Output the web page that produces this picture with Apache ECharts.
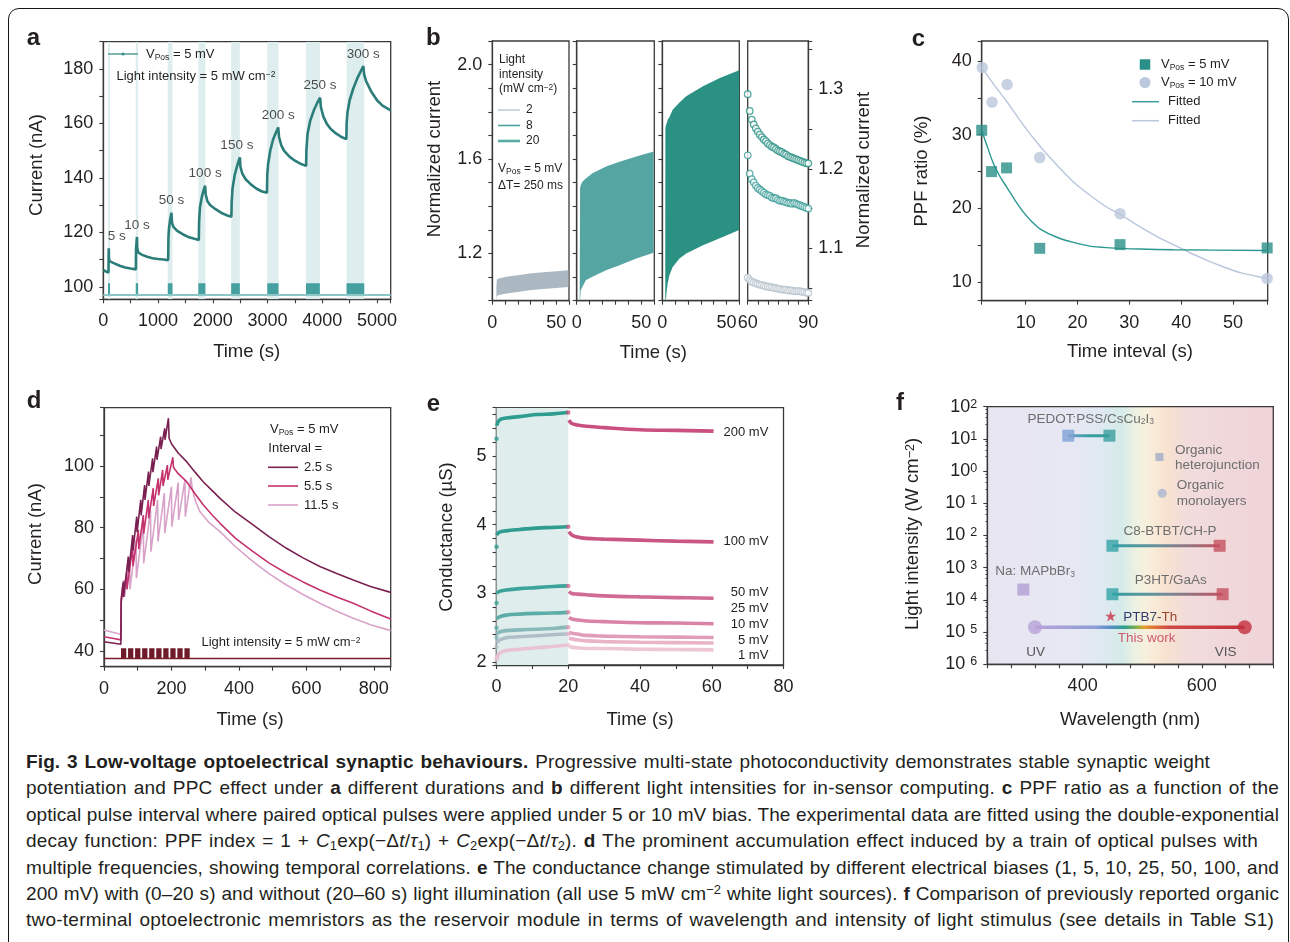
<!DOCTYPE html>
<html><head><meta charset="utf-8">
<script src="https://cdn.jsdelivr.net/npm/echarts@6.0.0/dist/echarts.min.js"></script>
<style>
html,body{margin:0;padding:0;background:#fff;width:1290px;height:942px;overflow:hidden;}
#frame{position:absolute;left:8px;top:8px;width:1281px;height:1100px;border:1.6px solid #161616;border-radius:11px;box-sizing:border-box;}
#chart{position:absolute;left:0;top:0;width:1290px;height:745px;}
#cap{position:absolute;left:26px;top:749px;font-family:"Liberation Sans",Arial,sans-serif;font-size:19px;color:#231f20;}
.ln{height:26.4px;line-height:26.4px;white-space:nowrap;}
.ln sub{font-size:0.68em;vertical-align:-0.22em;line-height:0;}
.ln sup{font-size:0.68em;vertical-align:0.5em;line-height:0;}
</style></head><body>
<div id="frame"></div>
<div id="chart"></div>
<div id="cap">
<div class="ln" data-w="1184"><span><b>Fig. 3 Low-voltage optoelectrical synaptic behaviours.</b> Progressive multi-state photoconductivity demonstrates stable synaptic weight</span></div>
<div class="ln" data-w="1253"><span>potentiation and PPC effect under <b>a</b> different durations and <b>b</b> different light intensities for in-sensor computing. <b>c</b> PPF ratio as a function of the</span></div>
<div class="ln" data-w="1253"><span>optical pulse interval where paired optical pulses were applied under 5 or 10 mV bias. The experimental data are fitted using the double-exponential</span></div>
<div class="ln" data-w="1232"><span>decay function: PPF index = 1 + <i>C</i><sub>1</sub>exp(−Δ<i>t</i>/<i>τ</i><sub>1</sub>) + <i>C</i><sub>2</sub>exp(−Δ<i>t</i>/<i>τ</i><sub>2</sub>). <b>d</b> The prominent accumulation effect induced by a train of optical pulses with</span></div>
<div class="ln" data-w="1253"><span>multiple frequencies, showing temporal correlations. <b>e</b> The conductance change stimulated by different electrical biases (1, 5, 10, 25, 50, 100, and</span></div>
<div class="ln" data-w="1253"><span>200 mV) with (0–20 s) and without (20–60 s) light illumination (all use 5 mW cm<sup>−2</sup> white light sources). <b>f</b> Comparison of previously reported organic</span></div>
<div class="ln" data-w="1248"><span>two-terminal optoelectronic memristors as the reservoir module in terms of wavelength and intensity of light stimulus (see details in Table S1)</span></div>
</div>
<script>
// ================= DATA =================
// Panel a
const aCurve = [[0,106.1],[50,105.6],[95,105.2],[97,111],[100,114.1],[104,110.5],[115,109.4],[200,108.6],[300,107.7],[400,107.1],[500,106.7],[595,106.4],[598,114],[615,118.3],[620,114.2],[640,112.6],[700,111.8],[800,111],[900,110.5],[1000,110.2],[1100,110],[1185,109.8],[1190,118],[1200,121.5],[1220,124.5],[1245,127.2],[1255,123.5],[1280,122],[1350,120.5],[1450,119.3],[1550,118.3],[1650,117.7],[1745,117.2],[1750,124],[1765,129],[1800,133],[1830,135.3],[1860,137.1],[1870,134],[1900,131.5],[1950,130],[2050,128.5],[2150,127.2],[2250,126.3],[2340,125.7],[2345,131],[2360,136],[2400,141],[2450,144.8],[2495,147.5],[2505,144],[2540,141.5],[2600,139.5],[2700,137.5],[2800,136],[2900,135],[2990,134.5],[2995,141],[3010,145],[3050,150],[3100,154],[3150,156.5],[3195,158.5],[3210,155],[3250,152],[3300,150],[3400,147.8],[3500,146.3],[3600,145.2],[3705,144.4],[3710,150],[3730,156],[3780,161],[3850,165],[3910,167.6],[3960,169.5],[3975,166],[4020,162.5],[4080,160],[4150,158],[4250,156.3],[4350,155],[4440,154.2],[4445,160],[4460,164],[4500,168.5],[4570,173],[4650,177],[4700,179],[4750,181],[4765,178],[4800,175.5],[4900,171.5],[5000,168.5],[5100,166.5],[5250,164.8]];
const aPulseStart = [86,593,1178,1736,2336,2995,3703,4444];
const aPulseEnd = [123,636,1264,1865,2494,3201,3956,4767];
const aPulseLabels = ['5 s','10 s','50 s','100 s','150 s','200 s','250 s','300 s'];
const aPeakT = [100,615,1245,1860,2495,3195,3960,4750];
const aPeakV = [114.1,118.3,127.2,137.1,147.5,158.5,169.5,181];
const aPulseLow = 97.2, aPulseHigh = 101.25, aBaseline = 97;

// Panel b (band envelopes: time, lower, upper)
const b1T = [3.2,3.6,5,11,20,29,40,50,59.5];
const b1Lo = [1.0,1.02,1.024,1.03,1.037,1.044,1.05,1.054,1.058];
const b1Hi = [1.06,1.09,1.094,1.101,1.108,1.115,1.12,1.125,1.129];
const b2T = [2.3,2.6,3.1,4.4,7,12.2,22.7,33.1,46.1,59.5];
const b2Lo = [1.0,1.0,1.044,1.058,1.087,1.101,1.129,1.15,1.179,1.203];
const b2Hi = [1.0,1.476,1.49,1.504,1.518,1.54,1.568,1.589,1.611,1.632];
const b3T = [2.3,2.4,2.9,3.4,4.2,5.5,8.1,13.4,18.6,31.7,44.8,59.9];
const b3Lo = [1.0,1.0,1.01,1.04,1.073,1.108,1.143,1.179,1.2,1.235,1.264,1.299];
const b3Hi = [1.0,1.73,1.745,1.752,1.766,1.777,1.809,1.84,1.866,1.908,1.943,1.976];
const b4T = [60,61,62,63,64,65,66,67,68,69,70,71,72,73,74,75,76,77,78,79,80,81,82,83,84,85,86,87,88,89,90];
const b4High = [1.294,1.273,1.262,1.256,1.251,1.247,1.243,1.24,1.237,1.235,1.232,1.23,1.228,1.227,1.225,1.223,1.222,1.221,1.219,1.218,1.216,1.215,1.214,1.213,1.212,1.211,1.21,1.209,1.208,1.207,1.207];
const b4Mid = [1.217,1.194,1.187,1.183,1.179,1.176,1.174,1.172,1.17,1.168,1.167,1.166,1.164,1.163,1.163,1.161,1.16,1.16,1.159,1.158,1.157,1.157,1.156,1.157,1.156,1.155,1.154,1.153,1.152,1.151,1.15];
const b4Low = [1.063,1.06,1.058,1.057,1.056,1.055,1.054,1.054,1.053,1.052,1.052,1.051,1.051,1.05,1.05,1.049,1.049,1.048,1.048,1.048,1.047,1.047,1.047,1.046,1.046,1.046,1.046,1.045,1.045,1.044,1.044];

// Panel c
const cX5 = [1.5,3.4,6.3,12.7,28.2,56.6];
const cY5 = [30.6,25.0,25.5,14.6,15.1,14.65];
const cX10 = [1.6,3.5,6.4,12.7,28.2,56.6];
const cY10 = [39.1,34.4,36.8,26.9,19.3,10.5];
const cFit5X = [1.5,2.47,3.76,5.05,6.33,7.94,9.55,11.2,12.8,16,19.2,22.4,25.6,32,38.5,56.7];
const cFit5Y = [30.6,28.6,26.1,24.3,22.9,21.1,19.5,18.2,17.2,16.1,15.4,14.9,14.7,14.5,14.4,14.3];
const cFit10X = [1.51,3.76,6.33,9.55,12.8,16,19.2,22.4,25.6,28.2,32.1,35.3,38.5,41.7,44.9,48.1,51.4,56.7];
const cFit10Y = [39.1,36.9,34.5,31.3,28.4,25.9,23.6,21.8,20.2,19.2,17.5,16.2,15.1,14.0,13.0,12.1,11.3,10.5];

// Panel d
const d25 = [[0,43.0],[25,42.6],[50,42.2],[51,56],[57,62.5],[58,57.5],[72,70.6],[73,65.5],[85,77.6],[86,72.5],[97,83.6],[98,78.5],[109,89],[110,84],[120.5,93.8],[121.5,89],[132,98.2],[133,93.5],[144,102.5],[145,98],[156,106.3],[157,102],[168,109.5],[169,105.5],[180,112.2],[181,108.5],[191,115.5],[193,109],[200,107.2],[220,104.2],[245,101.4],[270,98],[294,94.9],[320,92.1],[344,89.5],[390,85],[442,80.9],[490,77],[541,73.3],[590,70.2],[640,67.4],[690,65.1],[739,63],[790,60.9],[850,59]];
const d55 = [[0,44.6],[25,44.1],[50,43.6],[51,57],[56,61.5],[57,57.5],[67,65.2],[68,60],[85,73.9],[86,67.5],[102,79.3],[103,73],[116.6,84.1],[117.5,78],[131.4,89],[132.5,83],[146,92.8],[147,87],[161,96],[162,90.5],[174,98.7],[175,93.5],[188,100.3],[189,95.5],[204,102.8],[206,99.5],[220,97.5],[245,94.9],[270,91],[294,87.4],[320,84.2],[344,81.4],[390,76.5],[442,72.2],[490,68.5],[541,65.2],[590,62.4],[640,59.8],[690,57.5],[739,55.5],[790,53],[850,50.4]];
const d115 = [[0,46.8],[25,46.1],[50,45.4],[51,55.5],[60,63],[61,57.5],[76,70],[77,60],[95,76],[96,63.6],[116.6,81.4],[117.5,68.4],[138,85.7],[139,72.2],[159,89],[160,75.5],[179,91.2],[180,78.2],[200,93.3],[201,80.3],[220,94.6],[221,82.5],[240,95.5],[241,83.6],[258,96.3],[261,93],[270,89],[284,85.2],[310,81.8],[344,78.7],[390,73.8],[442,69],[490,65],[541,61.4],[590,58.3],[640,55.5],[690,52.9],[739,50.6],[790,48.5],[850,46.6]];
const dPulseStart = [50.4,71.3,92.2,113.1,134,154.9,175.8,196.7,217.6,238.5];
const dPulseEnd = [66,86.9,107.8,128.7,149.6,170.5,191.4,212.3,233.2,254.1];
const dPulseLow = 37.6, dPulseHigh = 40.9;

// Panel e
const eBias = ['200 mV','100 mV','50 mV','25 mV','10 mV','5 mV','1 mV'];
const eOnT = [0.05,0.8,2.7,6.4,11,15.7,19.9];
const eOn200 = [5.44,5.52,5.55,5.57,5.6,5.61,5.63];
const eOn100 = [3.85,3.89,3.91,3.93,3.95,3.96,3.97];
const eOn50 = [3.0,3.03,3.05,3.07,3.085,3.1,3.11];
const eOn25 = [2.63,2.66,2.685,2.70,2.71,2.715,2.725];
const eOn10 = [2.41,2.44,2.46,2.47,2.48,2.49,2.51];
const eOn5 = [2.28,2.32,2.355,2.37,2.385,2.40,2.41];
const eOn1 = [2.03,2.13,2.17,2.19,2.21,2.23,2.25];
const eOffT = [20.2,21,22.5,25,30,40,50,60.5];
const eOff200 = [5.52,5.47,5.45,5.43,5.41,5.38,5.37,5.36];
const eOff100 = [3.90,3.85,3.82,3.80,3.79,3.775,3.76,3.75];
const eOff50 = [3.03,3.0,2.99,2.98,2.965,2.95,2.94,2.93];
const eOff25 = [2.65,2.63,2.615,2.60,2.59,2.575,2.57,2.56];
const eOff10 = [2.44,2.42,2.41,2.39,2.38,2.37,2.365,2.36];
const eOff5 = [2.35,2.34,2.325,2.31,2.30,2.29,2.285,2.28];
const eOff1 = [2.23,2.22,2.21,2.2,2.2,2.19,2.185,2.18];
const eDot0 = [5.25,3.68,2.86,2.50,2.36,2.22,2.05];

// Panel f
const fRangeNames = ['PEDOT:PSS/CsCu2I3','C8-BTBT/CH-P','P3HT/GaAs'];
const fRangeX1 = [376,450,450];
const fRangeX2 = [445,630,635];
const fRangeI = [12.6,4.8e-3,1.5e-4];
const fSingleNames = ['Na: MAPbBr3','Organic heterojunction','Organic monolayers','PTB7-Th'];
const fSingleX = [300.5,529,533.6,447];
const fSingleI = [2.1e-4,2.74,0.205,3.16e-5];
const fWorkX = [320,672];
const fWorkI = [1.41e-5,1.41e-5];

// ================= STYLE / BUILD =================
const FONT = '"Liberation Sans", Arial, Helvetica, sans-serif';
const AX = '#3a3a3a', TX = '#231f20';
const RICH = {
  i:{fontStyle:'italic'},
  sub:{fontSize:8.5, verticalAlign:'bottom', lineHeight:10},
  sup:{fontSize:8.5, verticalAlign:'top', lineHeight:10}
};
const isMul = (v,s)=>Math.abs(v/s-Math.round(v/s))<1e-6;

const grids = [
  {left:103.3, top:41.7, width:287.4, height:257.6},
  {left:492.3, top:41, width:76.7, height:259.7},
  {left:576.7, top:41, width:77.6, height:259.7},
  {left:662.3, top:41, width:77, height:259.7},
  {left:747.7, top:41, width:60.6, height:259.7},
  {left:981.7, top:41, width:286, height:259.7},
  {left:104, top:407.7, width:286.7, height:259},
  {left:496.5, top:407.7, width:287, height:257.3},
  {left:987.3, top:406.7, width:286, height:257.6}
].map(g=>Object.assign({show:true, borderColor:AX, borderWidth:1.3, backgroundColor:'transparent'}, g));
grids[8].backgroundColor = {type:'linear', x:0, y:0, x2:1, y2:0, colorStops:[
  {offset:0, color:'#e8e5f1'},{offset:0.3, color:'#e6e8f3'},{offset:0.4, color:'#dfe9f2'},
  {offset:0.47, color:'#d4ebe8'},{offset:0.52, color:'#eef1e2'},{offset:0.56, color:'#f8f0dc'},
  {offset:0.62, color:'#f8e2d0'},{offset:0.7, color:'#f1dcdc'},{offset:1, color:'#efd3d8'}]};

function ax(dir, gi, min, max, step, lab, dec, extra){
  return Object.assign({type:'value', gridIndex:gi, min, max, minInterval:step, maxInterval:step,
    axisLine:{show:true, onZero:false, lineStyle:{color:AX, width:1.3}},
    axisTick:{show:true, length:4, lineStyle:{color:AX, width:1.1}},
    axisLabel:{show:true, margin: dir==='x'?13:10, fontSize:18, fontFamily:FONT, color:TX,
      formatter:v=>isMul(v,lab)?v.toFixed(dec):''},
    splitLine:{show:false}}, extra||{});
}
const xAxis = [
  ax('x',0,0,5250,500,1000,0),
  ax('x',1,0,60,10,50,0),
  ax('x',2,0,60,10,50,0),
  ax('x',3,0,60,10,50,0),
  ax('x',4,60,90,5,30,0),
  ax('x',5,1.5,56.7,10,10,0),
  ax('x',6,0,850,100,200,0),
  ax('x',7,0,80,10,20,0),
  ax('x',8,240,720,40,200,0)
];
const yAxis = [
  ax('y',0,95.4,190,10,20,0),
  ax('y',1,1.0,2.1,0.1,0.4,1),
  ax('y',2,1.0,2.1,0.1,0.4,1,{axisLabel:{show:false}}),
  ax('y',3,1.0,2.1,0.1,0.4,1,{axisLabel:{show:false}}),
  ax('y',4,1.034,1.361,0.05,0.1,1,{position:'right'}),
  ax('y',5,7.5,42.7,5,10,0),
  ax('y',6,34.9,118.9,10,20,0),
  ax('y',7,1.96,5.7,0.2,1,0),
  {type:'log', logBase:10, gridIndex:8, min:1e-6, max:100, splitNumber:8,
   axisLine:{show:true, onZero:false, lineStyle:{color:AX, width:1.3}},
   axisTick:{show:true, length:4, lineStyle:{color:AX, width:1.1}},
   minorTick:{show:true, splitNumber:5, length:2, lineStyle:{color:AX, width:0.8}},
   splitLine:{show:false}, minorSplitLine:{show:false},
   axisLabel:{margin:10, fontSize:18, fontFamily:FONT, color:TX,
     rich:{s:{fontSize:12.5, verticalAlign:'top', lineHeight:12}},
     formatter:v=>{const e=Math.round(Math.log10(v)); return e>=0?('10{s|'+e+'}'):('10 {s|'+(-e)+'}');}}}
];

function rectSeries(gi, starts, ends, lo, hi, color, z){
  return {type:'custom', xAxisIndex:gi, yAxisIndex:gi, z:z, silent:true, clip:true,
    data: starts.map((s,i)=>[s, ends[i], lo, hi]),
    encode:{x:[0,1], y:[2,3]},
    renderItem:(p,api)=>{
      const a=api.coord([api.value(0),api.value(3)]), b=api.coord([api.value(1),api.value(2)]);
      return {type:'rect', shape:{x:a[0], y:a[1], width:b[0]-a[0], height:b[1]-a[1]}, style:{fill:color}};
    }};
}
function bandSeries(gi, t, lo, hi, color){
  const data = t.map((v,i)=>[v, lo[i], hi[i]]);
  return {type:'custom', xAxisIndex:gi, yAxisIndex:gi, z:2, silent:true, clip:true, data,
    encode:{x:0, y:[1,2]},
    renderItem:(p,api)=>{
      if(p.dataIndex!==0) return null;
      const pts=[];
      data.forEach(d=>pts.push(api.coord([d[0],d[2]])));
      for(let i=data.length-1;i>=0;i--) pts.push(api.coord([data[i][0],data[i][1]]));
      return {type:'polygon', shape:{points:pts}, style:{fill:color}};
    }};
}
function lineS(gi, data, color, w, z, extra){
  return Object.assign({type:'line', xAxisIndex:gi, yAxisIndex:gi, data, symbol:'none', z:z||3, silent:true,
    lineStyle:{color, width:w}, animation:false}, extra||{});
}
const pairs = (xs, ys)=>xs.map((x,i)=>[x, ys[i]]);

const series = [];
// ---- a ----
series.push(rectSeries(0, aPulseStart, aPulseEnd, 95.4, 190, '#deeded', 1));
series.push(lineS(0, [[0,aBaseline],[5250,aBaseline]], '#8cc6c6', 2, 2));
series.push(rectSeries(0, aPulseStart, aPulseEnd, aPulseLow, aPulseHigh, '#45a09f', 2));
series.push(lineS(0, aCurve, '#2b7d79', 2.6, 4));
series.push({type:'scatter', xAxisIndex:0, yAxisIndex:0, symbolSize:2, silent:true,
  data:aPeakT.map((t,i)=>({value:[t,aPeakV[i]], label:{offset:[i===0?8:(i===4?-3:0),0]}})),
  itemStyle:{color:'rgba(0,0,0,0)'}, z:6,
  label:{show:true, position:'top', distance:4, fontSize:13.5, fontFamily:FONT, color:TX,
    formatter:p=>aPulseLabels[p.dataIndex]}});
// ---- b ----
series.push(bandSeries(1, b1T, b1Lo, b1Hi, '#abb8c2'));
series.push(bandSeries(2, b2T, b2Lo, b2Hi, '#55a5a3'));
series.push(bandSeries(3, b3T, b3Lo, b3Hi, '#2a9183'));
[[b4Low,'#b6c3cc'],[b4Mid,'#3c9d98'],[b4High,'#2a9184']].forEach(([ys,c])=>{
  series.push({type:'scatter', xAxisIndex:4, yAxisIndex:4, data:pairs(b4T,ys), symbol:'circle', symbolSize:6.5,
    silent:true, z:3, itemStyle:{color:'#fff', borderColor:c, borderWidth:1.3}});
});
// ---- c ----
series.push(lineS(5, pairs(cFit10X,cFit10Y), '#b9c6db', 1.4, 3, {smooth:0.3}));
series.push(lineS(5, pairs(cFit5X,cFit5Y), '#2a9890', 1.4, 3, {smooth:0.3}));
series.push({type:'scatter', xAxisIndex:5, yAxisIndex:5, data:pairs(cX10,cY10), symbol:'circle', symbolSize:11.5,
  silent:true, z:4, itemStyle:{color:'#bac7dc'}});
series.push({type:'scatter', xAxisIndex:5, yAxisIndex:5, data:pairs(cX5,cY5), symbol:'rect', symbolSize:11,
  silent:true, z:5, itemStyle:{color:'#2a8f88'}});
// ---- d ----
series.push(lineS(6, [[0,dPulseLow],[850,dPulseLow]], '#7a1e2c', 1.5, 2));
series.push(rectSeries(6, dPulseStart, dPulseEnd, dPulseLow, dPulseHigh, '#6e1a28', 2));
series.push(lineS(6, d115, '#d9a3c9', 1.6, 3));
series.push(lineS(6, d55, '#c4336d', 1.6, 4));
series.push(lineS(6, d25, '#7a2152', 1.6, 5));
// ---- e ----
series.push(rectSeries(7, [0], [20], 1.96, 5.7, '#dfeeed', 1));
const eOnAll = [eOn200,eOn100,eOn50,eOn25,eOn10,eOn5,eOn1];
const eOffAll = [eOff200,eOff100,eOff50,eOff25,eOff10,eOff5,eOff1];
const eOnColor = ['#2f9c90','#2f9c90','#3ca39b','#5cada8','#89b8ba','#afbfc8','#eac3d3'];
const eOffColor = ['#c9507f','#c95683','#d06b94','#d983a6','#e19cb8','#e9b3c8','#eec7d6'];
for(let k=eBias.length-1;k>=0;k--){
  series.push(lineS(7, pairs(eOnT,eOnAll[k]), eOnColor[k], 3.6, 3, {smooth:0.4}));
  series.push(lineS(7, pairs(eOffT,eOffAll[k]), eOffColor[k], 3.6, 3, {smooth:0.4}));
  series.push({type:'scatter', xAxisIndex:7, yAxisIndex:7, silent:true, z:3, symbolSize:4.5,
    data:[[0,eDot0[k]]], itemStyle:{color:eOnColor[k]}});
  series.push({type:'scatter', xAxisIndex:7, yAxisIndex:7, silent:true, z:3, symbolSize:4.5,
    data:[[20,eOnAll[k][eOnAll[k].length-1]]], itemStyle:{color:eOffColor[k]}});
}
// ---- f ----
const grad = (stops)=>({type:'linear', x:0, y:0, x2:1, y2:0, colorStops:stops.map(s=>({offset:s[0], color:s[1]}))});
const fLineGrad = [
  grad([[0,'#7d9fd3'],[0.5,'#3a9fa2'],[1,'#2f9b98']]),
  grad([[0,'#2fa0a3'],[0.45,'#6d8f9c'],[1,'#c4505e']]),
  grad([[0,'#2fa0a3'],[0.45,'#6d8f9c'],[1,'#c4505e']])
];
const fEndColors = [['#7d9fd3','#3a9e9f'],['#35a3a7','#c4505e'],['#35a3a7','#c4505e']];
fRangeNames.forEach((n,i)=>{
  series.push(lineS(8, [[fRangeX1[i],fRangeI[i]],[fRangeX2[i],fRangeI[i]]], fLineGrad[i], 3, 3));
  series.push({type:'scatter', xAxisIndex:8, yAxisIndex:8, silent:true, z:4, symbol:'rect', symbolSize:12,
    data:[{value:[fRangeX1[i],fRangeI[i]], itemStyle:{color:fEndColors[i][0]}},
          {value:[fRangeX2[i],fRangeI[i]], itemStyle:{color:fEndColors[i][1]}}]});
});
series.push(lineS(8, pairs(fWorkX,fWorkI), grad([[0,'#b9a3d9'],[0.29,'#8e9fd6'],[0.36,'#5a8fcb'],[0.43,'#2a9f8e'],[0.49,'#8fb040'],[0.52,'#e3a030'],[0.56,'#e07834'],[0.63,'#d04a48'],[1,'#c3303c']]), 3.4, 3));
series.push({type:'scatter', xAxisIndex:8, yAxisIndex:8, silent:true, z:4, symbol:'circle', symbolSize:14,
  data:[{value:[fWorkX[0],fWorkI[0]], itemStyle:{color:'#b8a3d8'}},{value:[fWorkX[1],fWorkI[1]], itemStyle:{color:'#c3303c'}}]});
const fSingleSym = ['rect','rect','circle','path://M50,0 L61.8,35.5 L99,35.5 L69,57.5 L80.5,93 L50,71 L19.5,93 L31,57.5 L1,35.5 L38.2,35.5 Z'];
const fSingleSize = [12,8,9,11];
const fSingleColor = ['#b39fd3','#a0abc8','#aab6d3','#c8354a'];
fSingleNames.forEach((n,i)=>{
  series.push({type:'scatter', xAxisIndex:8, yAxisIndex:8, silent:true, z:4, symbol:fSingleSym[i], symbolSize:fSingleSize[i],
    data:[[fSingleX[i],fSingleI[i]]], itemStyle:{color:fSingleColor[i]}});
});

// ================= GRAPHIC TEXT =================
function T(x,y,text,o){ o=o||{};
  return {type:'text', x, y, rotation:o.rot||0, silent:true, z:100,
    style:{text, fontSize:o.fs||13, fontFamily:FONT, fontWeight:o.fw||'normal', fontStyle:o.fst||'normal',
      fill:o.c||TX, align:o.al||'left', verticalAlign:'middle', rich:o.rich||RICH}}; }
function L(x1,y1,x2,y2,c,w){ return {type:'line', silent:true, z:100, shape:{x1,y1,x2,y2}, style:{stroke:c, lineWidth:w}}; }
function R(cx,cy,s,c){ return {type:'rect', silent:true, z:100, shape:{x:cx-s/2, y:cy-s/2, width:s, height:s}, style:{fill:c}}; }
function C(cx,cy,r,c){ return {type:'circle', silent:true, z:100, shape:{cx,cy,r}, style:{fill:c}}; }
const R90 = Math.PI/2, TS = 18.5, LS = 24;
const gfx = [
  // panel letters
  T(33.5,38.5,'a',{fs:LS,fw:'bold',al:'center'}), T(433.3,38.5,'b',{fs:LS,fw:'bold',al:'center'}),
  T(918.3,39,'c',{fs:LS,fw:'bold',al:'center'}), T(34,401,'d',{fs:LS,fw:'bold',al:'center'}),
  T(433.3,404,'e',{fs:LS,fw:'bold',al:'center'}), T(900,403,'f',{fs:LS,fw:'bold',al:'center'}),
  // axis titles
  T(246.7,351.5,'Time (s)',{fs:TS,al:'center'}), T(36.7,165,'Current (nA)',{fs:TS,al:'center',rot:R90}),
  T(653.3,352.5,'Time (s)',{fs:TS,al:'center'}), T(435,159,'Normalized current',{fs:TS,al:'center',rot:R90}),
  T(864,170,'Normalized current',{fs:TS,al:'center',rot:R90}),
  T(1130,351.5,'Time inteval (s)',{fs:TS,al:'center'}), T(921.7,171,'PPF ratio (%)',{fs:TS,al:'center',rot:R90}),
  T(250,720,'Time (s)',{fs:TS,al:'center'}), T(36,534,'Current (nA)',{fs:TS,al:'center',rot:R90}),
  T(640,720,'Time (s)',{fs:TS,al:'center'}), T(446.7,537,'Conductance (µS)',{fs:TS,al:'center',rot:R90}),
  T(1130,720,'Wavelength (nm)',{fs:TS,al:'center'}),
  T(913.3,534,'Light intensity (W cm{s|−2})',{fs:TS,al:'center',rot:R90,rich:{s:{fontSize:12.5,verticalAlign:'top',lineHeight:12}}}),
  // a legend
  L(108,54,138,54,'#3a8f8a',1.3), C(123,54,1.6,'#3a8f8a'),
  T(146,54.5,'{i|V}{sub|Pos}{n| = 5 mV}',{fs:13,rich:Object.assign({n:{lineHeight:16}},RICH)}),
  T(116.5,76.5,'Light intensity = 5 mW cm{sup|−2}',{fs:13,rich:Object.assign({},RICH)}),
  // b legend
  T(499,60,'Light',{fs:12}), T(499,74.5,'intensity',{fs:12}), T(499,89,'(mW cm{sup|−2})',{fs:12}),
  L(498,110,520,110,'#a9bccb',1.2), T(526,110,'2',{fs:12}),
  L(498,125.5,520,125.5,'#4aa09c',1.6), T(526,125.5,'8',{fs:12}),
  L(498,141,520,141,'#5aaaa6',2.6), T(526,141,'20',{fs:12}),
  T(498,169,'V{sub|Pos}{n| = 5 mV}',{fs:12,rich:Object.assign({n:{lineHeight:15}},RICH)}),
  T(498,186,'Δ{i|T}= 250 ms',{fs:12}),
  // c legend
  R(1145,64.5,10.5,'#2a8f88'), T(1161,64.5,'{i|V}{sub|Pos}{n| = 5 mV}',{fs:13,rich:Object.assign({n:{lineHeight:16}},RICH)}),
  C(1145,82.5,5.5,'#bac7dc'), T(1161,82.5,'{i|V}{sub|Pos}{n| = 10 mV}',{fs:13,rich:Object.assign({n:{lineHeight:16}},RICH)}),
  L(1132,101.7,1159,101.7,'#3aa09a',1.5), T(1168,101.7,'Fitted',{fs:13}),
  L(1132,120.7,1159,120.7,'#b9c6db',1.5), T(1168,120.7,'Fitted',{fs:13}),
  // d legend
  T(270,429.5,'{i|V}{sub|Pos}{n| = 5 mV}',{fs:13,rich:Object.assign({n:{lineHeight:16}},RICH)}),
  T(268.3,448.3,'Interval =',{fs:13}),
  L(268,467.3,298,467.3,'#7a2152',1.6), T(304,467.3,'2.5 s',{fs:13}),
  L(268,486,298,486,'#c4336d',1.6), T(304,486,'5.5 s',{fs:13}),
  L(268,505,298,505,'#d9a3c9',1.6), T(304,505,'11.5 s',{fs:13}),
  T(201.5,642.5,'Light intensity = 5 mW cm{sup|−2}',{fs:13,rich:Object.assign({},RICH)}),
  // e labels
  T(768.3,432.7,eBias[0],{fs:13,al:'right'}), T(768.3,541.7,eBias[1],{fs:13,al:'right'}),
  T(768.3,592.3,eBias[2],{fs:13,al:'right'}), T(768.3,608.3,eBias[3],{fs:13,al:'right'}),
  T(768.3,624.3,eBias[4],{fs:13,al:'right'}), T(768.3,640.3,eBias[5],{fs:13,al:'right'}),
  T(768.3,655.7,eBias[6],{fs:13,al:'right'}),
  // f labels
  T(1090.7,419.3,'PEDOT:PSS/CsCu{sub|2}I{sub|3}',{fs:13.5,c:'#6e6e6e',al:'center',rich:Object.assign({},RICH)}),
  T(1175,450,'Organic',{fs:13.5,c:'#6e6e6e'}), T(1175,465.7,'heterojunction',{fs:13.5,c:'#6e6e6e'}),
  T(1176.7,485,'Organic',{fs:13.5,c:'#6e6e6e'}), T(1176.7,501.7,'monolayers',{fs:13.5,c:'#6e6e6e'}),
  T(1170,531.7,'C8-BTBT/CH-P',{fs:13.5,c:'#6e6e6e',al:'center'}),
  T(1170.7,580,'P3HT/GaAs',{fs:13.5,c:'#6e6e6e',al:'center'}),
  T(1035,571.7,'Na: MAPbBr{sub|3}',{fs:13.5,c:'#6e6e6e',al:'center',rich:Object.assign({},RICH)}),
  T(1123.3,617.3,'{p|PTB}{q|7}{r|-}{s|Th}',{fs:13.5,rich:{p:{fill:'#323a6c'},q:{fill:'#3d4866'},r:{fill:'#5a3e50'},s:{fill:'#9c4630'}}}),
  T(1146.7,638.3,'This work',{fs:13.5,c:'#d05a70',al:'center'}),
  T(1035.7,652.7,'UV',{fs:13.5,c:'#555',al:'center'}), T(1225.7,652.7,'VIS',{fs:13.5,c:'#555',al:'center'})
];

const chart = echarts.init(document.getElementById('chart'), null, {renderer:'canvas'});
chart.setOption({
  animation:false,
  textStyle:{fontFamily:FONT},
  grid:grids, xAxis, yAxis, series, graphic:gfx
});

// caption line fitting: split the slack between letter and word spacing
document.querySelectorAll('.ln').forEach(el=>{
  const W = +el.dataset.w, sp = el.querySelector('span');
  const w = sp.getBoundingClientRect().width;
  const txt = sp.textContent;
  const n = (txt.match(/ /g)||[]).length, m = txt.length;
  const slack = W - w;
  sp.style.letterSpacing = (slack*0.5/m)+'px';
  const w2 = sp.getBoundingClientRect().width;
  if(n) sp.style.wordSpacing = ((W-w2)/n)+'px';
});
</script>
</body></html>
